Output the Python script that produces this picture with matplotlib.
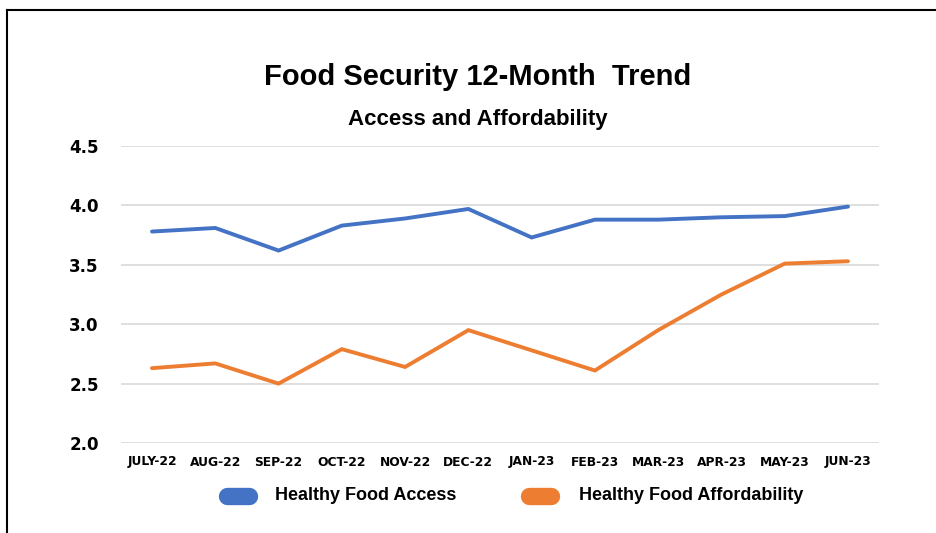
import matplotlib
matplotlib.use("Agg")
import matplotlib.pyplot as plt
from matplotlib.lines import Line2D

months = ["JULY-22", "AUG-22", "SEP-22", "OCT-22", "NOV-22", "DEC-22",
          "JAN-23", "FEB-23", "MAR-23", "APR-23", "MAY-23", "JUN-23"]
access = [3.78, 3.81, 3.62, 3.83, 3.89, 3.97, 3.73, 3.88, 3.88, 3.90, 3.91, 3.99]
afford = [2.63, 2.67, 2.50, 2.79, 2.64, 2.95, 2.78, 2.61, 2.95, 3.25, 3.51, 3.53]
yticks = [2.0, 2.5, 3.0, 3.5, 4.0, 4.5]
series_names = ["Healthy Food Access", "Healthy Food Affordability"]

blue = "#4472C4"
orange = "#ED7D31"

plt.rcParams['font.family'] = ['Liberation Sans', 'DejaVu Sans']
plt.rcParams['font.weight'] = 'bold'

fig = plt.figure(figsize=(9.36, 5.33), dpi=100)
ax = fig.add_axes([121/936, 1 - 443/533, (879-121)/936, (443-146)/533])

x = list(range(len(months)))
ax.plot(x, access, color=blue, lw=2.8, solid_capstyle='round', solid_joinstyle='miter')
ax.plot(x, afford, color=orange, lw=2.8, solid_capstyle='round', solid_joinstyle='miter')

ax.set_xlim(-0.49, 11.49)
ax.set_ylim(2.0, 4.5)
ax.set_yticks(yticks)
ax.set_yticklabels([f"{v:.1f}" for v in yticks], fontsize=12, fontweight='bold',
                   family='DejaVu Sans')
ax.set_xticks(x)
ax.set_xticklabels(months, fontsize=8.8, fontweight='bold', family='DejaVu Sans')
ax.tick_params(length=0)
ax.tick_params(axis='y', pad=16)
ax.tick_params(axis='x', pad=9)
ax.grid(axis='y', color='#d9d9d9', lw=1.2)
ax.set_axisbelow(True)
for s in ax.spines.values():
    s.set_visible(False)

fig.text(478/936, 1 - 77/533, "Food Security 12-Month  Trend", ha='center', va='center',
         fontsize=21, fontweight='bold')
fig.text(478/936, 1 - 119/533, "Access and Affordability", ha='center', va='center',
         fontsize=16, fontweight='bold')

# legend: rounded colour swatches with labels
for cx, tx, col, name in [(238, 275, blue, series_names[0]),
                          (540, 579, orange, series_names[1])]:
    fig.add_artist(Line2D([(cx - 11)/936, (cx + 11)/936], [1 - 496/533, 1 - 496/533],
                          color=col, lw=12.5, solid_capstyle='round',
                          transform=fig.transFigure))
    fig.text(tx/936, 1 - 496/533, name, ha='left', va='center',
             fontsize=13, fontweight='bold')

# outer frame (cropped at right and bottom)
fig.add_artist(Line2D([7/936, 1.0], [1 - 10/533, 1 - 10/533], color='black', lw=1.5,
                      transform=fig.transFigure))
fig.add_artist(Line2D([7/936, 7/936], [1 - 10/533, 0.0], color='black', lw=1.5,
                      transform=fig.transFigure))

fig.savefig("out.png", dpi=100)
